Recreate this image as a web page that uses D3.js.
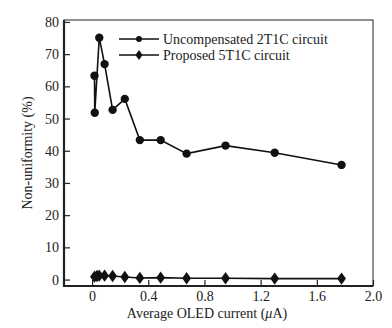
<!DOCTYPE html>
<html><head><meta charset="utf-8">
<script src="https://cdn.jsdelivr.net/npm/d3@7"></script>
<style>body{margin:0;background:#fff}svg{display:block}text{font-family:"Liberation Serif","Times New Roman",serif;fill:#222}</style>
</head><body><div id="c"></div>
<script>
const currentX = [0.017, 0.019, 0.051, 0.089, 0.146, 0.233, 0.34, 0.488, 0.673, 0.95, 1.30, 1.776];
const uncompensated = [63.3, 51.8, 75.1, 66.9, 52.7, 56.1, 43.3, 43.3, 39.1, 41.6, 39.4, 35.6];
const proposedX = [0.017, 0.035, 0.051, 0.089, 0.146, 0.233, 0.34, 0.488, 0.673, 0.95, 1.30, 1.776];
const proposed = [0.9, 1.1, 1.2, 1.2, 1.1, 0.8, 0.5, 0.6, 0.4, 0.4, 0.3, 0.3];
const xTicks = [0, 0.4, 0.8, 1.2, 1.6, 2.0];
const yTicks = [0, 10, 20, 30, 40, 50, 60, 70, 80];
const seriesNames = ["Uncompensated 2T1C circuit", "Proposed 5T1C circuit"];

const W = 392, H = 328;
const m = {l: 64, t: 20, r: 19, b: 42};
const FS = 14;
const svg = d3.select("#c").append("svg").attr("width", W).attr("height", H);
const x = d3.scaleLinear().domain([-0.2, 2.0]).range([m.l, W - m.r]);
const y = d3.scaleLinear().domain([-2.0, 80.6]).range([H - m.b, m.t]);

// frame
svg.append("rect").attr("x", m.l).attr("y", m.t).attr("width", W - m.r - m.l).attr("height", H - m.b - m.t)
  .attr("fill", "none").attr("stroke", "#222").attr("stroke-width", 1);

const xa = svg.append("g").attr("transform", `translate(0,${H - m.b})`)
  .call(d3.axisBottom(x).tickValues(xTicks).tickFormat(d => d === 0 ? "0" : d3.format(".1f")(d)).tickSizeInner(-6).tickSizeOuter(0).tickPadding(5));
const ya = svg.append("g").attr("transform", `translate(${m.l},0)`)
  .call(d3.axisLeft(y).tickValues(yTicks).tickSizeInner(-6).tickSizeOuter(0).tickPadding(5));
[xa, ya].forEach(a => {
  a.select(".domain").attr("stroke", "#222").attr("stroke-width", 2.2);
  a.selectAll(".tick line").attr("stroke", "#222").attr("stroke-width", 1.2);
  a.selectAll(".tick text").attr("font-size", FS).style("font-family", '"Liberation Serif",serif').attr("fill", "#222");
});
xa.select(".domain").attr("d", `M${m.l - 1},0H${W - m.r}`);
ya.select(".domain").attr("d", `M0,${m.t}V${H - m.b + 1}`);

const line1 = d3.line().x((d, i) => x(currentX[i])).y(d => y(d));
const line2 = d3.line().x((d, i) => x(proposedX[i])).y(d => y(d));
svg.append("path").attr("d", line1(uncompensated)).attr("fill", "none").attr("stroke", "#111").attr("stroke-width", 1.6);
svg.append("path").attr("d", line2(proposed)).attr("fill", "none").attr("stroke", "#111").attr("stroke-width", 1.6);

svg.selectAll("circle.u").data(uncompensated).enter().append("circle")
  .attr("cx", (d, i) => x(currentX[i])).attr("cy", d => y(d)).attr("r", 4.2).attr("fill", "#111");
const dia = d3.symbol().type(d3.symbolDiamond).size(44);
svg.selectAll("path.p").data(proposed).enter().append("path")
  .attr("d", dia).attr("transform", (d, i) => `translate(${x(proposedX[i])},${y(d)}) scale(1.25,1)`).attr("fill", "#111");

// legend
const lg = svg.append("g");
[0, 1].forEach(i => {
  const ly = 39 + i * 16;
  lg.append("line").attr("x1", 119).attr("x2", 159).attr("y1", ly).attr("y2", ly).attr("stroke", "#111").attr("stroke-width", 1.6);
  if (i === 0) lg.append("circle").attr("cx", 139).attr("cy", ly).attr("r", 3).attr("fill", "#111");
  else lg.append("path").attr("d", d3.symbol().type(d3.symbolDiamond).size(28)).attr("transform", `translate(139,${ly}) scale(1.25,1)`).attr("fill", "#111");
  lg.append("text").attr("x", 163).attr("y", ly + 4.5).attr("font-size", FS).text(seriesNames[i]);
});

// axis titles
const xt = svg.append("text").attr("x", 207).attr("y", 318).attr("text-anchor", "middle").attr("font-size", FS);
xt.append("tspan").text("Average OLED current (");
xt.append("tspan").attr("font-style", "italic").text("μ");
xt.append("tspan").text("A)");
svg.append("text").attr("transform", `translate(32,${(m.t + H - m.b) / 2}) rotate(-90)`).attr("text-anchor", "middle")
  .attr("font-size", FS).text("Non-uniformity (%)");
</script></body></html>
